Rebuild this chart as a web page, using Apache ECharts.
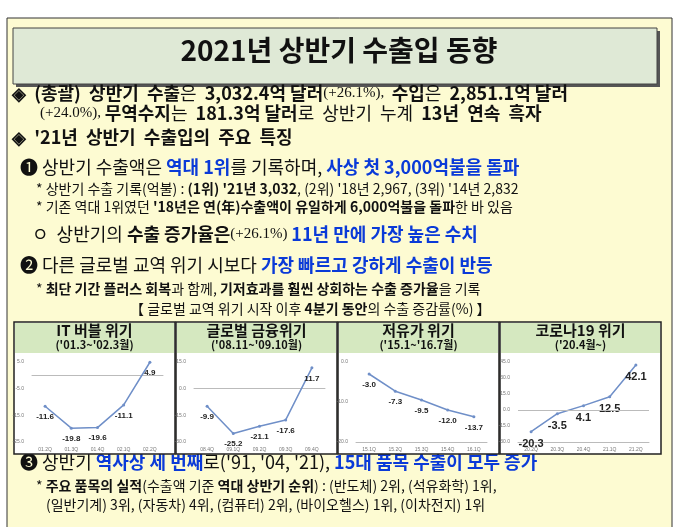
<!DOCTYPE html>
<html><head><meta charset="utf-8">
<script src="https://cdn.jsdelivr.net/npm/echarts@6/dist/echarts.min.js"></script>
<style>html,body{margin:0;padding:0;background:#fff}#c{width:678px;height:527px}</style>
</head><body><div id="c"></div>
<script>
// 4개 위기별 수출 증감률(%)
var itCats = ['01.2Q', '01.3Q', '01.4Q', '02.1Q', '02.2Q'];
var itVals = [-11.6, -19.8, -19.6, -11.1, 4.9];
var finCats = ['08.4Q', '09.1Q', '09.2Q', '09.3Q', '09.4Q'];
var finVals = [-9.9, -25.2, -21.1, -17.6, 11.7];
var oilCats = ['15.1Q', '15.2Q', '15.3Q', '15.4Q', '16.1Q'];
var oilVals = [-3.0, -7.3, -9.5, -12.0, -13.7];
var covCats = ['20.2Q', '20.3Q', '20.4Q', '21.1Q', '21.2Q'];
var covVals = [-20.3, -3.5, 4.1, 12.5, 42.1];
var panelTitles = ['IT 버블 위기', '글로벌 금융위기', '저유가 위기', '코로나19 위기'];
var panelSubs = ["('01.3~'02.3월)", "('08.11~'09.10월)", "('15.1~'16.7월)", "('20.4월~)"];
var yRanges = [[-25, 5, 10], [-30, 15, 15], [-20, 0, 10], [-30, 45, 15]];

var chart = echarts.init(document.getElementById('c'));
var F = '"Noto Sans CJK KR", sans-serif';

// 텍스트 한 줄 (세그먼트: [문자열, 스타일키])
var rich = {
  n: {fontFamily: F, fontSize: 18, fill: '#111'},
  b: {fontFamily: F, fontSize: 18, fontWeight: 'bold', fill: '#111'},
  t: {fontFamily: 'Liberation Serif', fontSize: 15, fill: '#111'},
  u: {fontFamily: F, fontSize: 18, fontWeight: 'bold', fill: '#0a3ad8'},
  s: {fontFamily: F, fontSize: 14, fill: '#111'},
  sb: {fontFamily: F, fontSize: 14, fontWeight: 'bold', fill: '#111'}
};
function line(x, y, segs) {
  var txt = segs.map(function (s) { return '{' + s[1] + '|' + s[0] + '}'; }).join('');
  return {type: 'text', left: x, top: y, style: {text: txt, rich: rich}};
}

var g = [
  {type: 'rect', shape: {x: 7, y: 18, width: 665, height: 520}, style: {fill: '#fdfbd2', stroke: '#333', lineWidth: 1}},
  {type: 'rect', shape: {x: 16, y: 31, width: 644, height: 56}, style: {fill: '#555'}},
  {type: 'rect', shape: {x: 13, y: 28, width: 644, height: 56}, style: {fill: '#dfe9d6', stroke: '#444', lineWidth: 1}},
  {type: 'text', left: 'center', top: 36, style: {text: '2021년 상반기 수출입 동향', font: 'bold 28px ' + F, fill: '#111'}},
  line(12, 84, [['◈  ', 'b'], ['(총괄)  상반기  수출', 'b'], ['은  ', 'n'], ['3,032.4억 달러', 'b'], ['(+26.1%),  ', 't'], ['수입', 'b'], ['은  ', 'n'], ['2,851.1억 달러', 'b']]),
  line(40, 104, [['(+24.0%), ', 't'], ['무역수지', 'b'], ['는  ', 'n'], ['181.3억 달러', 'b'], ['로  상반기  누계  ', 'n'], ['13년  연속  흑자', 'b']]),
  line(12, 128, [["◈  '21년  상반기  수출입의  주요  특징", 'b']]),
  line(20, 158, [['❶ 상반기 수출액은 ', 'n'], ['역대 1위', 'u'], ['를 기록하며, ', 'n'], ['사상 첫 3,000억불을 돌파', 'u']]),
  line(36, 182, [['* 상반기 수출 기록(억불) : ', 's'], ["(1위) '21년 3,032", 'sb'], [", (2위) '18년 2,967, (3위) '14년 2,832", 's']]),
  line(36, 200, [['* 기존 역대 1위였던 ', 's'], ["'18년은 연(年)수출액이 유일하게 6,000억불을 돌파", 'sb'], ['한 바 있음', 's']]),
  line(32, 225, [['ㅇ  상반기의 ', 'n'], ['수출 증가율은', 'b'], ['(+26.1%) ', 't'], ['11년 만에 가장 높은 수치', 'u']]),
  line(20, 256, [['❷ 다른 글로벌 교역 위기 시보다 ', 'n'], ['가장 빠르고 강하게 수출이 반등', 'u']]),
  line(36, 282, [['* ', 's'], ['최단 기간 플러스 회복', 'sb'], ['과 함께, ', 's'], ['기저효과를 훨씬 상회하는 수출 증가율', 'sb'], ['을 기록', 's']]),
  line(130, 302, [['【 글로벌 교역 위기 시작 이후 ', 's'], ['4분기 동안', 'sb'], ['의 수출 증감률(%) 】', 's']]),
  line(20, 453, [['❸ 상반기 ', 'n'], ['역사상 세 번째', 'u'], ["로('91, '04, '21), ", 'n'], ['15대 품목 수출이 모두 증가', 'u']]),
  line(36, 479, [['* ', 's'], ['주요 품목의 실적', 'sb'], ['(수출액 기준 ', 's'], ['역대 상반기 순위', 'sb'], [') : (반도체) 2위, (석유화학) 1위,', 's']]),
  line(46, 498, [['(일반기계) 3위, (자동차) 4위, (컴퓨터) 2위, (바이오헬스) 1위, (이차전지) 1위', 's']])
];

var px = [14, 176, 338, 500], pw = 161;
panelTitles.forEach(function (t, i) {
  g.push({type: 'rect', shape: {x: px[i], y: 322, width: pw, height: 132}, style: {fill: '#fff', stroke: '#222', lineWidth: 1.5}});
  g.push({type: 'rect', shape: {x: px[i] + 1, y: 323, width: pw - 2, height: 30}, style: {fill: '#d5e8c0'}});
  g.push({type: 'text', x: px[i] + pw / 2, y: 323, style: {text: t, font: 'bold 15px ' + F, fill: '#111', align: 'center'}});
  g.push({type: 'text', x: px[i] + pw / 2, y: 339, style: {text: panelSubs[i], font: 'bold 11px ' + F, fill: '#111', align: 'center'}});
});

var cats = [itCats, finCats, oilCats, covCats];
var vals = [itVals, finVals, oilVals, covVals];
var grids = [], xs = [], ys = [], series = [];
cats.forEach(function (c, i) {
  grids.push({left: px[i] + 18, width: pw - 30, top: 362, height: 80});
  xs.push({type: 'category', gridIndex: i, data: c, boundaryGap: true,
    axisLine: {onZero: i != 2, lineStyle: {color: '#bbb'}}, axisTick: {show: false},
    axisLabel: {fontSize: 5, color: '#777', margin: 5}});
  ys.push({type: 'value', gridIndex: i, min: yRanges[i][0], max: yRanges[i][1], interval: yRanges[i][2],
    splitLine: {show: false}, axisLine: {show: false}, axisTick: {show: false},
    axisLabel: {fontSize: 5, color: '#777', formatter: function (v) { return v.toFixed(1); }}});
  series.push({type: 'line', xAxisIndex: i, yAxisIndex: i, data: vals[i], symbol: 'circle', symbolSize: 3,
    lineStyle: {color: '#6f8fc8', width: 1.5}, itemStyle: {color: '#6f8fc8'},
    label: {show: true, position: 'bottom', fontSize: i == 3 ? 11 : 8, fontWeight: 'bold',
      fontFamily: '"Liberation Sans Narrow", sans-serif', color: '#222',
      formatter: function (p) { return p.value.toFixed(1); }}});
});
// 코로나: x축은 하단, 0 기준선 별도
xs[3].axisLine.onZero = false;
series[3].markLine = {silent: true, symbol: 'none', label: {show: false}, lineStyle: {color: '#bbb', type: 'solid', width: 1}, data: [{yAxis: 0}]};

chart.setOption({
  animation: false,
  graphic: g,
  grid: grids, xAxis: xs, yAxis: ys, series: series
});
</script></body></html>
